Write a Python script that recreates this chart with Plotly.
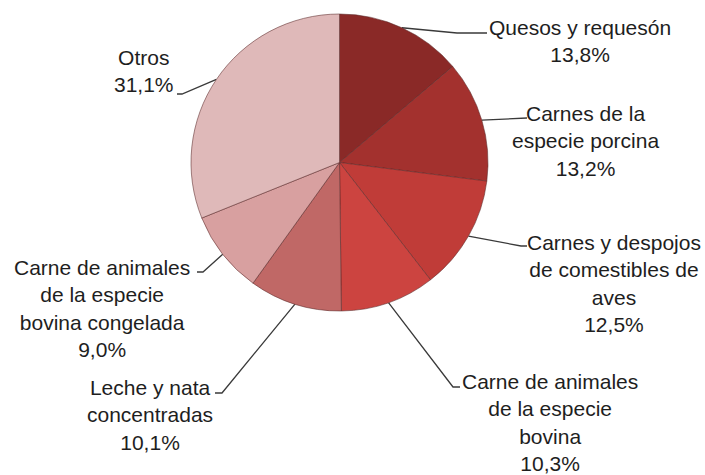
import math
import plotly.graph_objects as go

# ---- data ----
categories = [
    "Quesos y requesón",
    "Carnes de la<br>especie porcina",
    "Carnes y despojos<br>de comestibles de<br>aves",
    "Carne de animales<br>de la especie<br>bovina",
    "Leche y nata<br>concentradas",
    "Carne de animales<br>de la especie<br>bovina congelada",
    "Otros",
]
values = [13.8, 13.2, 12.5, 10.3, 10.1, 9.0, 31.1]
pct_labels = ["13,8%", "13,2%", "12,5%", "10,3%", "10,1%", "9,0%", "31,1%"]

colors = ["#8a2927", "#a3312e", "#c03c38", "#cc4440", "#c06866", "#d8a0a0", "#dfb9b9"]

W, H = 705, 475
CX, CY, R = 339.5, 162.5, 148.5

# label layout (pixel positions of label block centers) and leader-line elbows
label_pos = [(580, 41), (585, 141), (614, 283), (550, 422), (150, 415), (102, 308), (144, 71)]
elbows = [
    [(457, 33), (487, 33)],
    [(527, 118)],
    [(521, 246), (527, 246)],
    [(453, 387), (460, 387)],
    [(222, 393), (215, 393)],
    [(203, 272), (197, 272)],
    [(182, 94), (177, 94)],
]

fig = go.Figure()

fig.add_trace(go.Pie(
    values=values,
    labels=[c.replace("<br>", " ") for c in categories],
    sort=False,
    direction="clockwise",
    rotation=0,
    marker=dict(colors=colors, line=dict(color="rgba(90,40,40,0.55)", width=1)),
    textinfo="none",
    hoverinfo="label+percent",
    showlegend=False,
    domain=dict(x=[(CX - R) / W, (CX + R) / W], y=[(H - CY - R) / H, (H - CY + R) / H]),
))

total = sum(values)
cum = 0.0
for i, v in enumerate(values):
    mid = (cum + v / 2) / total * 2 * math.pi
    cum += v
    sx = CX + R * math.sin(mid)
    sy = CY - R * math.cos(mid)
    xs = [sx] + [p[0] for p in elbows[i]]
    ys = [sy] + [p[1] for p in elbows[i]]
    fig.add_trace(go.Scatter(
        x=xs, y=ys, mode="lines",
        line=dict(color="#3a3a3a", width=1.3),
        hoverinfo="skip", showlegend=False,
    ))
    lx, ly = label_pos[i]
    fig.add_annotation(
        x=lx, y=ly, xref="x", yref="y",
        text=categories[i] + "<br>" + pct_labels[i],
        showarrow=False, align="center",
        xanchor="center", yanchor="middle",
        font=dict(family="Liberation Sans, Arial, sans-serif", size=21, color="#1e1e1e"),
    )

fig.update_layout(
    width=W, height=H,
    margin=dict(l=0, r=0, t=0, b=0),
    paper_bgcolor="white", plot_bgcolor="rgba(0,0,0,0)",
    xaxis=dict(range=[0, W], visible=False, fixedrange=True, domain=[0, 1]),
    yaxis=dict(range=[H, 0], visible=False, fixedrange=True, domain=[0, 1]),
)

fig.write_html(
    "out.html",
    config={"displayModeBar": False},
    post_script="document.body.style.margin='0';document.body.style.overflow='hidden';",
)
